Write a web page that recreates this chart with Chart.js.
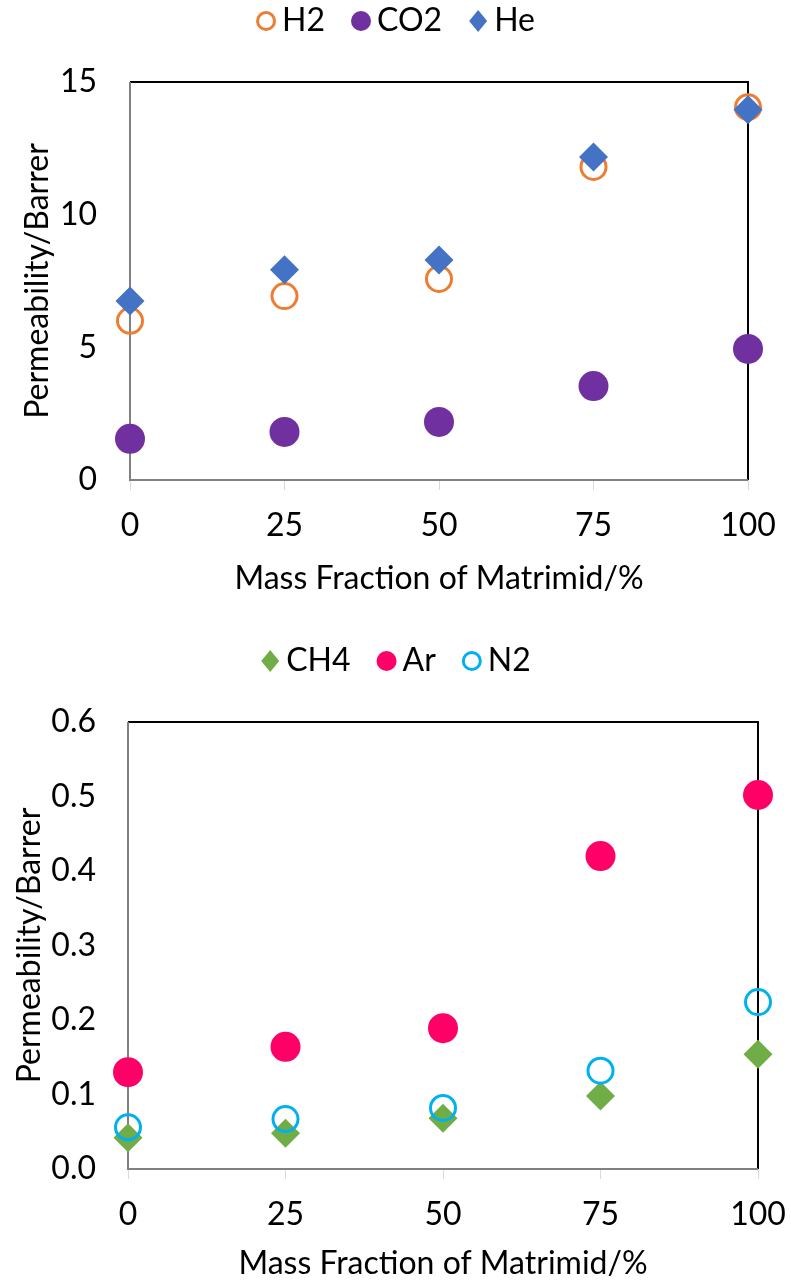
<!DOCTYPE html>
<html>
<head>
<meta charset="utf-8">
<script src="https://cdn.jsdelivr.net/npm/chart.js@4.4.1/dist/chart.umd.min.js"></script>
<style>
  body { margin: 0; background: #fff; }
  canvas { display: block; }
</style>
</head>
<body>
<canvas id="chartLight" width="791" height="610"></canvas>
<canvas id="chartHeavy" width="791" height="674"></canvas>
<script>
// x values: mass fraction of Matrimid in the blend (%)
const matrimidFraction = [0, 25, 50, 75, 100];

// permeabilities (Barrer)
const h2Perm = [6.0, 6.93, 7.58, 11.8, 14.05];
const co2Perm = [1.55, 1.81, 2.19, 3.54, 4.94];
const hePerm = [6.75, 7.92, 8.29, 12.17, 13.95];

const ch4Perm = [0.042, 0.048, 0.068, 0.098, 0.154];
const arPerm = [0.130, 0.164, 0.189, 0.420, 0.502];
const n2Perm = [0.056, 0.067, 0.082, 0.132, 0.224];

// tick labels
const xTicks = [0, 25, 50, 75, 100];
const yTicksLight = [0, 5, 10, 15];
const yTicksHeavy = [0, 0.1, 0.2, 0.3, 0.4, 0.5, 0.6];

const FONT = "Lato, 'Liberation Sans', sans-serif";
const FONT_SIZE = 32;

Chart.defaults.font.family = FONT;
Chart.defaults.font.size = FONT_SIZE;
Chart.defaults.color = '#000';

function toPoints(ys) {
	return matrimidFraction.map((x, i) => ({x: x, y: ys[i]}));
}

// Excel-like legend centred above the plot
const legendRow = {
	id: 'legendRow',
	afterDraw(chart, args, opts) {
		const ctx = chart.ctx;
		const sets = chart.data.datasets;
		const r = 10, gap = 6, spacing = 26;
		ctx.save();
		ctx.font = FONT_SIZE + 'px ' + FONT;
		const widths = sets.map(d => 2 * r + gap + ctx.measureText(d.label).width);
		const total = widths.reduce((a, b) => a + b, 0) + spacing * (sets.length - 1);
		let x = (chart.width - total) / 2;
		sets.forEach((d, i) => {
			const cx = x + r, cy = opts.y;
			ctx.beginPath();
			if (d.pointStyle === 'rectRot') {
				ctx.moveTo(cx, cy - r - 1);
				ctx.lineTo(cx + r - 1, cy);
				ctx.lineTo(cx, cy + r + 1);
				ctx.lineTo(cx - r + 1, cy);
				ctx.closePath();
			} else {
				ctx.arc(cx, cy, d.borderWidth ? r - 1.5 : r, 0, Math.PI * 2);
			}
			ctx.fillStyle = d.backgroundColor;
			ctx.fill();
			if (d.borderWidth) {
				ctx.lineWidth = d.borderWidth;
				ctx.strokeStyle = d.borderColor;
				ctx.stroke();
			}
			ctx.fillStyle = '#000';
			ctx.textAlign = 'left';
			ctx.textBaseline = 'middle';
			ctx.fillText(d.label, x + 2 * r + gap, cy);
			x += widths[i] + spacing;
		});
		ctx.restore();
	}
};

// plot frame: black top/right, grey left/bottom
const plotFrame = {
	id: 'plotFrame',
	beforeDatasetsDraw(chart) {
		const {ctx, chartArea: a} = chart;
		ctx.save();
		ctx.lineWidth = 2;
		ctx.strokeStyle = '#000';
		ctx.beginPath();
		ctx.moveTo(a.left, a.top);
		ctx.lineTo(a.right, a.top);
		ctx.lineTo(a.right, a.bottom);
		ctx.stroke();
		ctx.strokeStyle = '#808080';
		ctx.beginPath();
		ctx.moveTo(a.left, a.top);
		ctx.lineTo(a.left, a.bottom);
		ctx.lineTo(a.right, a.bottom);
		ctx.stroke();
		ctx.restore();
	}
};

function makeOptions(cfg) {
	return {
		responsive: false,
		animation: false,
		layout: {padding: cfg.padding},
		plugins: {
			legend: {display: false},
			tooltip: {enabled: false},
			legendRow: {y: cfg.legendY},
		},
		scales: {
			x: {
				type: 'linear',
				min: 0,
				max: 100,
				afterBuildTicks: s => { s.ticks = xTicks.map(v => ({value: v})); },
				afterFit: s => {
					s.height = cfg.xHeight;
					// let the layout padding decide the plot edges
					s.paddingLeft = 0;
					s.paddingRight = 0;
				},
				ticks: {padding: 16},
				grid: {drawOnChartArea: false, drawTicks: true, tickLength: 10, color: '#d9d9d9'},
				border: {display: false},
				title: {display: true, text: 'Mass Fraction of Matrimid/%', padding: {top: 0, bottom: 0}},
			},
			y: {
				min: 0,
				max: cfg.yMax,
				afterBuildTicks: s => { s.ticks = cfg.yTicks.map(v => ({value: v})); },
				afterFit: s => { s.width = cfg.yWidth; },
				ticks: {
					padding: cfg.yTickPad,
					callback: v => cfg.decimals ? v.toFixed(cfg.decimals) : v,
				},
				grid: {display: false, drawTicks: false},
				border: {display: false},
				title: {display: true, text: 'Permeability/Barrer', padding: {top: cfg.yTitlePad, bottom: 0}},
			},
		},
	};
}

function openCircle(label, data, color, order) {
	return {label, data, order, pointStyle: 'circle', pointRadius: 12.5, borderWidth: 3,
		borderColor: color, backgroundColor: 'rgba(0,0,0,0)', clip: false};
}
function solid(label, data, style, color, order) {
	return {label, data, order, pointStyle: style, pointRadius: style === 'rectRot' ? 14.5 : 15, borderWidth: 0,
		borderColor: color, backgroundColor: color, clip: false};
}

new Chart(document.getElementById('chartLight'), {
	type: 'scatter',
	data: {
		datasets: [
			openCircle('H2', toPoints(h2Perm), '#ED7D31', 3),
			solid('CO2', toPoints(co2Perm), 'circle', '#7030A0', 2),
			solid('He', toPoints(hePerm), 'rectRot', '#4472C4', 1),
		]
	},
	options: makeOptions({
		padding: {top: 82, right: 43, left: 0, bottom: 12},
		legendY: 21,
		xHeight: 118,
		yWidth: 130,
		yMax: 15,
		yTicks: yTicksLight,
		decimals: 0,
		yTickPad: 33,
		yTitlePad: 18,
	}),
	plugins: [legendRow, plotFrame],
});

new Chart(document.getElementById('chartHeavy'), {
	type: 'scatter',
	data: {
		datasets: [
			solid('CH4', toPoints(ch4Perm), 'rectRot', '#70AD47', 3),
			solid('Ar', toPoints(arPerm), 'circle', '#FF0066', 2),
			openCircle('N2', toPoints(n2Perm), '#00B0F0', 1),
		]
	},
	options: makeOptions({
		padding: {top: 112, right: 33, left: 0, bottom: 1},
		legendY: 51,
		xHeight: 114,
		yWidth: 128,
		yMax: 0.6,
		yTicks: yTicksHeavy,
		decimals: 1,
		yTickPad: 32,
		yTitlePad: 10,
	}),
	plugins: [legendRow, plotFrame],
});
</script>
</body>
</html>
